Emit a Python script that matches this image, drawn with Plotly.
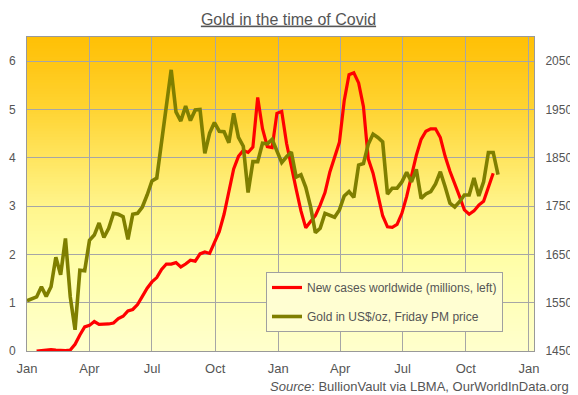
import plotly.graph_objects as go
import pandas as pd

# ---- data (weekly) ----
week_start = "2020-01-01"
gold_price = [1554, 1558, 1562, 1583, 1563, 1583, 1644, 1608, 1683, 1562,
              1494, 1617, 1616, 1679, 1690, 1715, 1685, 1704, 1735, 1733,
              1728, 1681, 1733, 1735, 1748, 1773, 1802, 1808, 1880, 1958,
              2032, 1945, 1926, 1957, 1927, 1949, 1950, 1859, 1901, 1923,
              1905, 1904, 1881, 1942, 1892, 1874, 1778, 1842, 1842, 1880,
              1879, 1888, 1862, 1840, 1852, 1862, 1810, 1815, 1789, 1749,
              1695, 1704, 1735, 1731, 1727, 1742, 1771, 1780, 1768, 1835,
              1838, 1878, 1899, 1892, 1883, 1775, 1787, 1787, 1800, 1820,
              1800, 1826, 1766, 1775, 1780, 1796, 1821, 1790, 1756, 1748,
              1759, 1773, 1773, 1808, 1771, 1800, 1861, 1861, 1815]
new_cases_m = [None, None, 0.00, 0.01, 0.02, 0.03, 0.02, 0.01, 0.01, 0.02,
               0.14, 0.33, 0.50, 0.53, 0.61, 0.55, 0.55, 0.56, 0.58, 0.67,
               0.72, 0.83, 0.86, 0.96, 1.13, 1.30, 1.43, 1.52, 1.69, 1.80,
               1.80, 1.83, 1.74, 1.80, 1.88, 1.86, 2.01, 2.05, 2.02, 2.26,
               2.47, 2.83, 3.30, 3.77, 4.03, 4.15, 4.11, 4.22, 5.25, 4.60,
               4.23, 4.21, 4.92, 4.96, 4.30, 3.80, 3.35, 2.90, 2.55, 2.68,
               2.80, 3.02, 3.28, 3.70, 4.00, 4.32, 5.18, 5.72, 5.76, 5.55,
               5.06, 3.98, 3.68, 3.26, 2.80, 2.57, 2.56, 2.62, 2.85, 3.20,
               3.62, 4.05, 4.38, 4.55, 4.60, 4.60, 4.42, 4.03, 3.72, 3.48,
               3.20, 2.92, 2.83, 2.90, 3.02, 3.10, 3.40, 3.68]

title_text = "Gold in the time of Covid"
cases_name = "New cases worldwide (millions, left)"
gold_name = "Gold in US$/oz, Friday PM price"
source_text = "<i>Source</i>: BullionVault via LBMA, OurWorldInData.org"

dates = pd.date_range(week_start, periods=len(gold_price), freq="7D")

FONT = "Liberation Sans, Arial, sans-serif"
TXT = "#555555"
GRID = "#a6a6a6"

# page offset (default body margin) is 8px
W, H = 570, 387
ML, MT = 19, 29
MR, MB = 44, 44
PW = W - ML - MR
PH = H - MT - MB

def px_x(page_x):
    return (page_x - 8 - ML) / PW

def px_y(page_y):
    return (H - MB - (page_y - 8)) / PH

fig = go.Figure()
fig.add_trace(go.Scatter(x=dates[:len(new_cases_m)], y=new_cases_m, name=cases_name,
                         mode="lines", line=dict(color="#ff0000", width=3.2),
                         legendgroup="a", yaxis="y"))
fig.add_trace(go.Scatter(x=dates, y=gold_price, name=gold_name,
                         mode="lines", line=dict(color="#7f7f00", width=3.6),
                         legendgroup="b", yaxis="y2"))

# vertical gradient background
stops = [(0.0, (255, 192, 5)), (0.08, (255, 198, 20)), (0.23, (255, 212, 50)),
         (0.385, (255, 229, 95)), (0.54, (255, 245, 140)), (0.69, (255, 254, 165)),
         (0.84, (255, 255, 185)), (1.0, (255, 255, 205))]

def col_at(t):
    for (t0, c0), (t1, c1) in zip(stops[:-1], stops[1:]):
        if t0 <= t <= t1:
            f = (t - t0) / (t1 - t0)
            return "rgb(%d,%d,%d)" % tuple(round(a + (b - a) * f) for a, b in zip(c0, c1))
    return "rgb(%d,%d,%d)" % stops[-1][1]

N = 110
shapes = []
for i in range(N):
    t = (i + 0.5) / N  # from top
    y1 = 1 - i / N
    y0 = max(0, 1 - (i + 1.6) / N)
    shapes.append(dict(type="rect", xref="paper", yref="paper", x0=0, x1=1,
                       y0=y0, y1=y1, fillcolor=col_at(t), line=dict(width=0),
                       layer="below"))

fig.update_layout(
    width=W, height=H,
    margin=dict(l=ML, r=MR, t=MT, b=MB, autoexpand=False),
    paper_bgcolor="white", plot_bgcolor="rgba(0,0,0,0)",
    font=dict(family=FONT, size=12, color=TXT),
    shapes=shapes,
    title=dict(text="<u>" + title_text + "</u>", x=(288.5 - 8) / W, xref="container",
               y=1 - (19 - 8) / H, yref="container", xanchor="center", yanchor="middle",
               font=dict(family=FONT, size=16, color=TXT)),
    xaxis=dict(type="date", range=["2020-01-01", "2022-01-08 10:00"],
               tick0="2020-01-01", dtick="M3", tickformat="%b",
               showgrid=True, gridcolor=GRID, gridwidth=1,
               showline=True, linecolor="#999999", linewidth=1, mirror=True,
               ticks="outside", ticklen=5, tickcolor="rgba(0,0,0,0)",
               tickfont=dict(size=13, color=TXT), zeroline=False),
    yaxis=dict(range=[0, 6.5], tick0=0, dtick=1, showgrid=True, gridcolor=GRID,
               gridwidth=1, showline=True, linecolor="#999999", linewidth=1,
               mirror=True, zeroline=False, ticks="outside", ticklen=8,
               tickcolor="rgba(0,0,0,0)", tickfont=dict(size=12, color=TXT)),
    yaxis2=dict(range=[1450, 2100], tick0=1450, dtick=100, overlaying="y",
                side="right", showgrid=False, zeroline=False, showline=False,
                ticks="outside", ticklen=8, tickcolor="rgba(0,0,0,0)",
                tickfont=dict(size=12, color=TXT)),
    legend=dict(x=px_x(266), y=px_y(272), xanchor="left", yanchor="top",
                bgcolor="#fffed2", bordercolor="#a0a0a0", borderwidth=1,
                font=dict(family=FONT, size=12, color=TXT),
                traceorder="grouped", tracegroupgap=10),
    showlegend=True,
    annotations=[dict(text=source_text, xref="paper", yref="paper",
                      x=px_x(571), y=px_y(386), xanchor="right",
                      yanchor="middle", showarrow=False,
                      font=dict(family=FONT, size=13, color=TXT))],
)

fig.write_html("out.html")
